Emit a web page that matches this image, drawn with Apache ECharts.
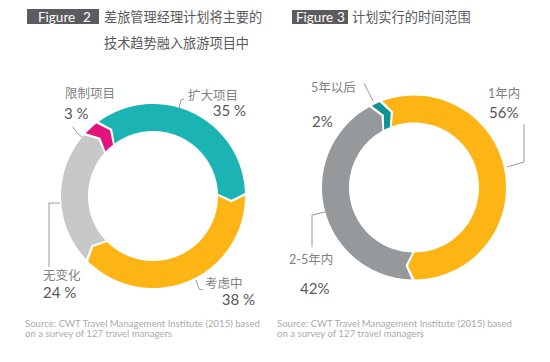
<!DOCTYPE html>
<html><head><meta charset="utf-8">
<script src="https://cdn.jsdelivr.net/npm/echarts@6/dist/echarts.min.js"></script>
<style>html,body{margin:0;padding:0;background:#fff}#c{width:550px;height:362px}</style>
</head><body><div id="c"></div>
<script>
// ---- data ----
const fig2Names = ['扩大项目', '考虑中', '无变化', '限制项目'];
const fig2Values = [35, 38, 24, 3];
const fig2Title = ['差旅管理经理计划将主要的', '技术趋势融入旅游项目中'];
const fig3Names = ['1年内', '2-5年内', '5年以后'];
const fig3Values = [56, 42, 2];
const fig3Title = ['计划实行的时间范围'];
const sourceLines = ['Source: CWT Travel Management Institute (2015) based', 'on a survey of 127 travel managers'];

// ---- styles / layout ----
const fig2Colors = ['#1BB3B4', '#FDB515', '#C7C8CA', '#E2137D'];
const fig3Colors = ['#FDB515', '#96999C', '#129393'];
const R_OUT = 92, R_IN = 65;
const GAP = 0.5, DEPTH = 1.3;
const NAME_COLOR = '#7f8184', PCT_COLOR = '#58595b';
const FONT = 'Lato, "Noto Sans CJK SC", sans-serif';

function segments(values) {
  let c = 0;
  return values.map(v => { const s = c; c += v; return [ (R_IN + R_OUT) / 2, s, c ]; });
}

function makeRender(colors) {
  return function (params, api) {
    const start = api.value(1), end = api.value(2);
    const rMid = (R_IN + R_OUT) / 2;
    const a0 = start + GAP / 2, a1 = end - GAP / 2;
    const pts = [];
    const N = 60;
    for (let k = 0; k <= N; k++) pts.push(api.coord([R_OUT, a0 + (a1 - a0) * k / N]));
    pts.push(api.coord([rMid, a1 + DEPTH]));
    for (let k = N; k >= 0; k--) pts.push(api.coord([R_IN, a0 + (a1 - a0) * k / N]));
    pts.push(api.coord([rMid, a0 + DEPTH]));
    return { type: 'polygon', shape: { points: pts }, style: { fill: colors[params.dataIndex] } };
  };
}

// label layout: [nameX, nameY, nameAlign, pctX, pctY, pctAlign]
const fig2LabelPos = [
  [188, 95, 'left', 246, 110, 'right'],
  [205, 283, 'left', 255, 299, 'right'],
  [43, 275, 'left', 43, 292, 'left'],
  [65, 93, 'left', 64, 113, 'left']
];
const fig2Pct = v => v + ' %';
const fig3LabelPos = [
  [488, 93, 'left', 489, 112, 'left'],
  [289, 259, 'left', 300, 288, 'left'],
  [311, 87, 'left', 312, 121, 'left']
];
const fig3Pct = v => v + '%';
const leaderLines = [
  [[179, 108], [181, 100], [184, 99]],
  [[196, 280], [199, 289], [203, 290]],
  [[60, 203], [49, 203], [49, 267]],
  [[73, 127], [77, 133], [82, 137]],
  [[524, 124], [524, 162], [507, 167]],
  [[325, 212], [312, 215], [312, 247]],
  [[364, 83], [373, 101]]
];

const graphics = [];
function txt(text, x, y, size, color, align, weight, family) {
  graphics.push({ type: 'text', x: x, y: y, silent: true,
    style: { text: text, fill: color, font: (weight || 'normal') + ' ' + size + 'px ' + (family || FONT),
      textAlign: align || 'left', verticalAlign: 'middle', textVerticalAlign: 'middle' } });
}
function addLabels(names, values, pos, pctFmt) {
  names.forEach((n, i) => {
    const p = pos[i];
    txt(n, p[0], p[1], 12.5, NAME_COLOR, p[2]);
    txt(pctFmt(values[i]), p[3], p[4], 15, PCT_COLOR, p[5]);
  });
}
addLabels(fig2Names, fig2Values, fig2LabelPos, fig2Pct);
addLabels(fig3Names, fig3Values, fig3LabelPos, fig3Pct);
leaderLines.forEach(pts => graphics.push({ type: 'polyline', silent: true, shape: { points: pts },
  style: { stroke: '#9a9a9a', lineWidth: 1, fill: null } }));

// figure headers
graphics.push({ type: 'rect', shape: { x: 27, y: 9, width: 72, height: 15 }, style: { fill: '#5b5c5e' } });
txt('Figure', 38, 16.5, 13.5, '#ffffff', 'left');
txt('2', 83, 16.5, 13.5, '#ffffff', 'left');
txt(fig2Title[0], 104, 17, 13.2, '#58595b', 'left');
txt(fig2Title[1], 104, 43, 13.2, '#58595b', 'left');
graphics.push({ type: 'rect', shape: { x: 292, y: 10, width: 56, height: 14 }, style: { fill: '#5b5c5e' } });
txt('Figure', 296, 17, 13.5, '#ffffff', 'left');
txt('3', 337, 17, 13.5, '#ffffff', 'left');
txt(fig3Title[0], 352, 17, 13.2, '#58595b', 'left');
// sources
[25, 277].forEach(x => {
  txt(sourceLines[0], x, 323, 9.6, '#a9abae', 'left', 'normal', FONT);
  txt(sourceLines[1], x, 333.5, 9.6, '#a9abae', 'left', 'normal', FONT);
});

const hiddenAxis = { show: false, axisLine: { show: false }, axisTick: { show: false }, axisLabel: { show: false }, splitLine: { show: false } };

const chart = echarts.init(document.getElementById('c'), null, { renderer: 'svg' });
chart.setOption({
  animation: false,
  polar: [
    { center: [153, 196], radius: R_OUT },
    { center: [414, 187.5], radius: R_OUT }
  ],
  angleAxis: [
    Object.assign({ polarIndex: 0, type: 'value', min: 0, max: 100, startAngle: 127, clockwise: true }, hiddenAxis),
    Object.assign({ polarIndex: 1, type: 'value', min: 0, max: 100, startAngle: 111, clockwise: true }, hiddenAxis)
  ],
  radiusAxis: [
    Object.assign({ polarIndex: 0, type: 'value', min: 0, max: R_OUT }, hiddenAxis),
    Object.assign({ polarIndex: 1, type: 'value', min: 0, max: R_OUT }, hiddenAxis)
  ],
  series: [
    { type: 'custom', coordinateSystem: 'polar', polarIndex: 0, renderItem: makeRender(fig2Colors),
      encode: { radius: 0, angle: [1, 2] }, data: segments(fig2Values) },
    { type: 'custom', coordinateSystem: 'polar', polarIndex: 1, renderItem: makeRender(fig3Colors),
      encode: { radius: 0, angle: [1, 2] }, data: segments(fig3Values) }
  ],
  graphic: graphics
});
</script></body></html>
